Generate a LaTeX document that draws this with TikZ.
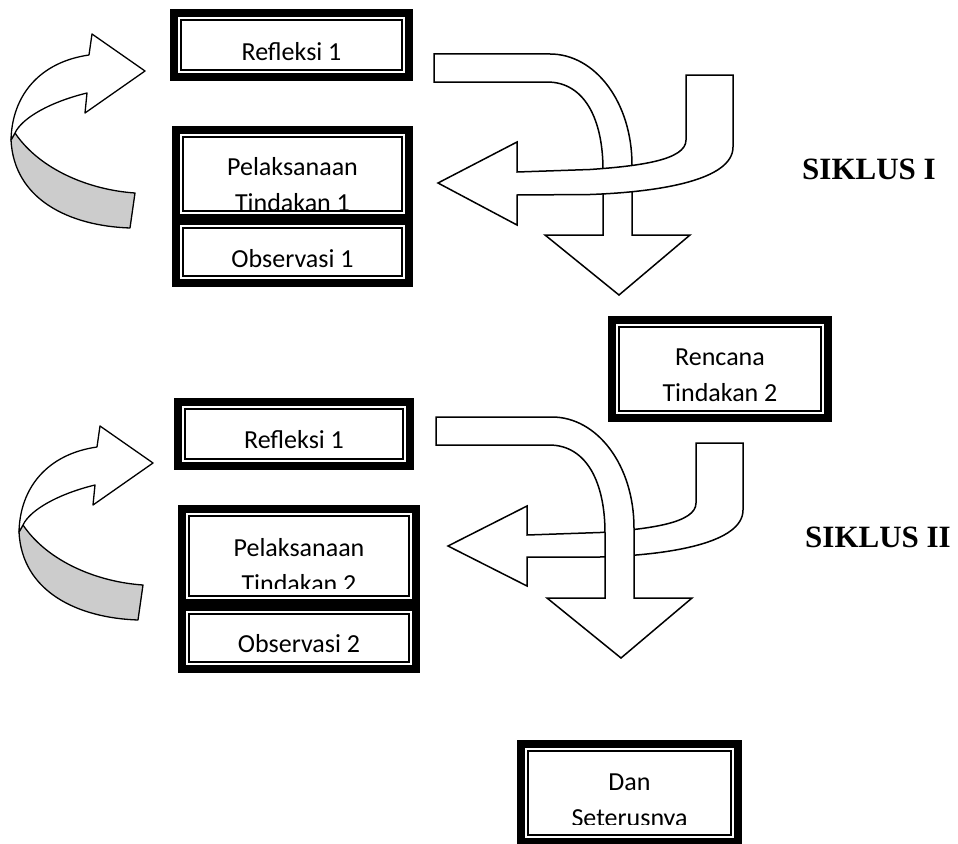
\documentclass[tikz,border=0pt]{standalone}
\usepackage{fontspec}
\setmainfont{Carlito}
\newfontfamily\timesfam{Liberation Serif}
\tikzset{
  boxframe/.style={draw=black, line width=8pt, fill=white, outer sep=0pt, inner sep=0pt, rectangle},
  innerframe/.style={draw=black, line width=1.4pt},
  txt/.style={font=\fontsize{26}{36}\selectfont, inner sep=0pt, anchor=base},
  sik/.style={font=\timesfam\bfseries\fontsize{31}{36}\selectfont, inner sep=0pt, anchor=base west},
  blockarrow/.style={draw=black, line width=1.5pt, fill=white, line join=miter},
  ribbonfront/.style={draw=black, line width=1.3pt, fill=white, line join=round},
  ribbonback/.style={draw=black, line width=1.3pt, fill=black!20, line join=round},
}
\newcommand\dblbox[5]{%
  \node[boxframe, minimum width={#4-#2-8}, minimum height={#5-#3-8}] (#1) at ({(#2+#4)/2},{(#3+#5)/2}) {};
  \draw[innerframe] ([shift={(7,7)}]#1.north west) rectangle ([shift={(-7,-7)}]#1.south east);
}
\newcommand\curvarrow{%
  \path[ribbonback] (15,133) .. controls (40,170) and (90,190) .. (135,193) -- (130,228)
     .. controls (70,226) and (14,200) .. (11,140) -- cycle;
  \path[ribbonfront] (11,140) .. controls (12,95) and (40,62) .. (89,55) -- (92,34) -- (145,71)
     -- (85,113) -- (87,93) .. controls (50,102) and (22,118) .. (15,133) -- cycle;
}
\newcommand\downarrowshape{%
  \path[blockarrow] (434,54) -- (550,54) .. controls (595,54) and (632,102) .. (632,165) -- (632,235)
     -- (690,235) -- (619,295) -- (545,235) -- (603,235) -- (603,170)
     .. controls (603,120) and (585,82) .. (547,82) -- (434,82) -- cycle;
}
\begin{document}
\begin{tikzpicture}[x=1pt,y=-1pt]
\useasboundingbox[fill=white] (0,0) rectangle (958,843);

% ---------- cycle I ----------
\curvarrow
\downarrowshape
\path[blockarrow] (686,75) -- (733,75) -- (733,147) .. controls (733,180) and (660,192) .. (590,194.5)
   -- (517,195) -- (517,225) -- (438,183) -- (517,142) -- (517,172) -- (590,169.5)
   .. controls (640,166) and (686,160) .. (686,140) -- cycle;

\dblbox{r1}{170}{9}{413}{81}
\node[txt] (r1t) at (291.5,60) {Refleksi 1};

\dblbox{p1}{172}{126}{413}{222}
\begin{scope}
  \clip (172,126) rectangle (413,213);
  \node[txt] (p1a) at (292.5,175) {Pelaksanaan};
  \node[txt] (p1b) at (292.5,211) {Tindakan 1};
\end{scope}

\dblbox{o1}{172}{217}{413}{287}
\node[txt] (o1t) at (292.5,267) {Observasi 1};

\node[sik] (s1) at (802,179) {SIKLUS I};

% ---------- Rencana ----------
\dblbox{rc}{608}{316}{832}{422}
\begin{scope}
  \clip (608,316) rectangle (832,402.5);
  \node[txt] (rca) at (720,365) {Rencana};
  \node[txt] (rcb) at (720,401) {Tindakan 2};
\end{scope}

% ---------- cycle II ----------
\begin{scope}[shift={(8,392)}]
  \curvarrow
\end{scope}
\path[blockarrow] (696,443) -- (743,443) -- (743,510) .. controls (743,543) and (670,555) .. (600,557)
   -- (527,557) -- (527,586) -- (448,546) -- (527,506) -- (527,535) -- (600,532.5)
   .. controls (650,529) and (696,523) .. (696,503) -- cycle;
\begin{scope}[shift={(2,363)}]
  \downarrowshape
\end{scope}

\dblbox{r2}{174}{398}{414}{470}
\node[txt] (r2t) at (294,448) {Refleksi 1};

\dblbox{p2}{178}{505}{420}{607}
\begin{scope}
  \clip (178,505) rectangle (420,588);
  \node[txt] (p2a) at (299,556) {Pelaksanaan};
  \node[txt] (p2b) at (299,592) {Tindakan 2};
\end{scope}

\dblbox{o2}{178}{603}{420}{673}
\node[txt] (o2t) at (299,652) {Observasi 2};

\node[sik] (s2) at (805,547) {SIKLUS II};

% ---------- Dan Seterusnya ----------
\dblbox{ds}{517}{740}{742}{846}
\begin{scope}
  \clip (517,740) rectangle (742,824);
  \node[txt] (dsa) at (629.5,790) {Dan};
  \node[txt] (dsb) at (629.5,826) {Seterusnya};
\end{scope}
\end{tikzpicture}
\end{document}
